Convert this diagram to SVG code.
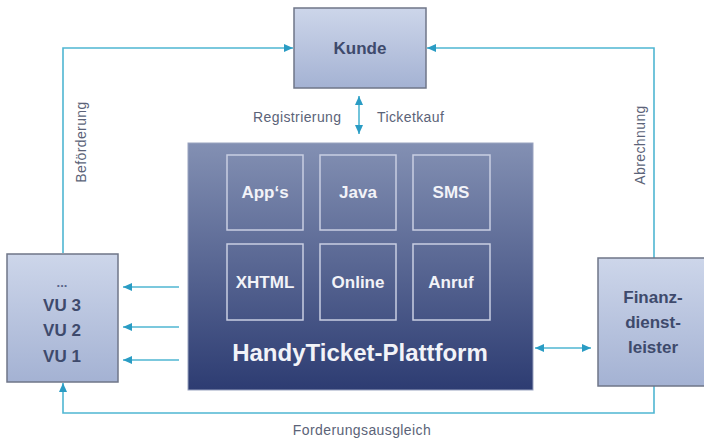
<svg xmlns="http://www.w3.org/2000/svg" width="704" height="443" viewBox="0 0 704 443">
  <defs>
    <linearGradient id="gLight" x1="0" y1="0" x2="0" y2="1">
      <stop offset="0" stop-color="#cdd6ea"/>
      <stop offset="1" stop-color="#a4b2d3"/>
    </linearGradient>
    <linearGradient id="gDark" x1="0" y1="0" x2="0" y2="1">
      <stop offset="0" stop-color="#8390b3"/>
      <stop offset="1" stop-color="#2d3c72"/>
    </linearGradient>
    <marker id="ah" markerUnits="userSpaceOnUse" markerWidth="10" markerHeight="8" refX="9" refY="4" orient="auto-start-reverse">
      <path d="M0,0 L9,4 L0,8 z" fill="#2a9cc4"/>
    </marker>
    <style>
      .light { fill: url(#gLight); stroke: #6f7688; stroke-width: 1.5; }
      .dark { fill: url(#gDark); stroke: #9aa3c0; stroke-width: 1; }
      .inner { fill: none; stroke: #c9cee2; stroke-width: 1.5; }
      .conn { fill: none; stroke: #4fb6d2; stroke-width: 1.6; }
      .lbl { font-family: "Liberation Sans", Arial, sans-serif; font-size: 14px; fill: #5b6378; letter-spacing: 0.4px; }
      .nt { font-family: "Liberation Sans", Arial, sans-serif; font-size: 17px; font-weight: bold; fill: #3e4a6c; text-anchor: middle; }
      .wt { font-family: "Liberation Sans", Arial, sans-serif; font-size: 17px; font-weight: bold; fill: #f2f3f8; text-anchor: middle; }
    </style>
  </defs>
  <rect width="704" height="443" fill="#ffffff"/>

  <g id="connectors">
    <path class="conn" d="M63,253 L63,48 L293,48" marker-end="url(#ah)"/>
    <path class="conn" d="M654,259 L654,48 L427,48" marker-end="url(#ah)"/>
    <path class="conn" d="M654,386 L654,413 L63,413 L63,383" marker-end="url(#ah)"/>
    <path class="conn" d="M359,96 L359,134" marker-start="url(#ah)" marker-end="url(#ah)"/>
    <path class="conn" d="M535,348 L591,348" marker-start="url(#ah)" marker-end="url(#ah)"/>
    <path class="conn" d="M179,287 L123,287" marker-end="url(#ah)"/>
    <path class="conn" d="M179,327 L123,327" marker-end="url(#ah)"/>
    <path class="conn" d="M179,360 L123,360" marker-end="url(#ah)"/>
    <text class="lbl" x="253" y="122">Registrierung</text>
    <text class="lbl" x="377" y="122">Ticketkauf</text>
    <text class="lbl" transform="translate(86,142) rotate(-90)" text-anchor="middle">Beförderung</text>
    <text class="lbl" transform="translate(645,145) rotate(-90)" text-anchor="middle">Abrechnung</text>
    <text class="lbl" x="362" y="435" text-anchor="middle">Forderungsausgleich</text>
  </g>

  <g id="kunde">
    <rect class="light" x="294" y="8" width="132" height="80"/>
    <text class="nt" x="360" y="54">Kunde</text>
  </g>

  <g id="plattform">
    <rect class="dark" x="188" y="143" width="345" height="247"/>
    <text class="wt" x="360" y="361" style="font-size:24px">HandyTicket-Plattform</text>
  </g>

  <g id="apps">
    <rect class="inner" x="227" y="155" width="76" height="75"/>
    <text class="wt" x="265" y="198">App‘s</text>
  </g>
  <g id="java">
    <rect class="inner" x="320" y="155" width="76" height="75"/>
    <text class="wt" x="358" y="198">Java</text>
  </g>
  <g id="sms">
    <rect class="inner" x="413" y="155" width="77" height="75"/>
    <text class="wt" x="451" y="198">SMS</text>
  </g>
  <g id="xhtml">
    <rect class="inner" x="227" y="244" width="76" height="76"/>
    <text class="wt" x="265" y="288">XHTML</text>
  </g>
  <g id="online">
    <rect class="inner" x="320" y="244" width="76" height="76"/>
    <text class="wt" x="358" y="288">Online</text>
  </g>
  <g id="anruf">
    <rect class="inner" x="413" y="244" width="77" height="76"/>
    <text class="wt" x="451" y="288">Anruf</text>
  </g>

  <g id="vu">
    <rect class="light" x="7" y="254" width="111" height="128"/>
    <text class="nt" x="62" y="287" style="font-size:13px;fill:#59648a">...</text>
    <text class="nt" x="62" y="311">VU 3</text>
    <text class="nt" x="62" y="336">VU 2</text>
    <text class="nt" x="62" y="362">VU 1</text>
  </g>

  <g id="finanzdienstleister">
    <rect class="light" x="598" y="258" width="110" height="128"/>
    <text class="nt" x="653" y="303">Finanz-</text>
    <text class="nt" x="653" y="328">dienst-</text>
    <text class="nt" x="653" y="353">leister</text>
  </g>
</svg>
